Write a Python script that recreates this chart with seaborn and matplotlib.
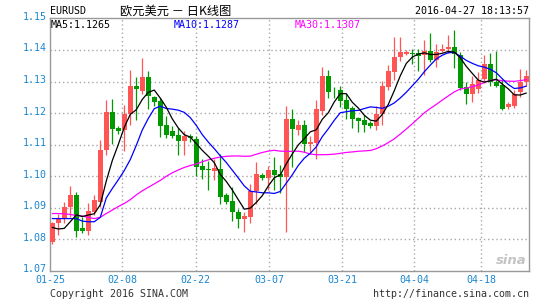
import numpy as np
import pandas as pd
import matplotlib
matplotlib.use("Agg")
import matplotlib.pyplot as plt
import matplotlib.transforms as mtransforms
import seaborn as sns

# ---------------- data ----------------
opens = [1.0793, 1.0851, 1.0866, 1.0903, 1.0940, 1.0835, 1.0827, 1.0888, 1.0919, 1.1082,
         1.1203, 1.1153, 1.1145, 1.1198, 1.1287, 1.1271, 1.1313, 1.1252, 1.1239, 1.1163,
         1.1142, 1.1132, 1.1111, 1.1128, 1.1119, 1.1032, 1.1022, 1.1016, 1.1024, 1.0942,
         1.0921, 1.0888, 1.0866, 1.0871, 1.0952, 1.1005, 1.0993, 1.1019, 1.1008, 1.0998,
         1.1182, 1.1145, 1.1163, 1.1103, 1.1105, 1.1208, 1.1316, 1.1277, 1.1274, 1.1240,
         1.1217, 1.1184, 1.1179, 1.1168, 1.1159, 1.1196, 1.1284, 1.1329, 1.1379, 1.1387,
         1.1392, 1.1389, 1.1384, 1.1396, 1.1369, 1.1398, 1.1403, 1.1411, 1.1385, 1.1284,
         1.1262, 1.1276, 1.1309, 1.1356, 1.1300, 1.1290, 1.1219, 1.1223, 1.1266, 1.1298]
highs = [1.0856, 1.0882, 1.0917, 1.0968, 1.0950, 1.0872, 1.0914, 1.0940, 1.1114, 1.1240,
         1.1245, 1.1160, 1.1227, 1.1337, 1.1313, 1.1376, 1.1334, 1.1255, 1.1247, 1.1192,
         1.1158, 1.1153, 1.1144, 1.1135, 1.1128, 1.1055, 1.1047, 1.1055, 1.1071, 1.0947,
         1.0965, 1.0895, 1.0886, 1.0977, 1.1046, 1.1011, 1.1034, 1.1061, 1.1036, 1.1221,
         1.1214, 1.1177, 1.1177, 1.1126, 1.1242, 1.1345, 1.1337, 1.1282, 1.1287, 1.1259,
         1.1224, 1.1189, 1.1193, 1.1175, 1.1221, 1.1301, 1.1351, 1.1440, 1.1440, 1.1400,
         1.1403, 1.1403, 1.1433, 1.1454, 1.1419, 1.1419, 1.1448, 1.1464, 1.1393, 1.1297,
         1.1318, 1.1331, 1.1385, 1.1391, 1.1396, 1.1308, 1.1234, 1.1272, 1.1340, 1.1335]
lows = [1.0787, 1.0815, 1.0853, 1.0872, 1.0808, 1.0819, 1.0814, 1.0877, 1.0903, 1.1066,
        1.1103, 1.1134, 1.1081, 1.1161, 1.1178, 1.1261, 1.1214, 1.1223, 1.1123, 1.1120,
        1.1121, 1.1068, 1.1066, 1.1107, 1.1002, 1.0992, 1.0956, 1.0987, 1.0911, 1.0911,
        1.0857, 1.0835, 1.0825, 1.0851, 1.0911, 1.0987, 1.0956, 1.0958, 1.0947, 1.0823,
        1.1030, 1.1130, 1.1077, 1.1072, 1.1056, 1.1193, 1.1248, 1.1248, 1.1219, 1.1182,
        1.1154, 1.1140, 1.1140, 1.1153, 1.1145, 1.1161, 1.1272, 1.1305, 1.1366, 1.1384,
        1.1356, 1.1333, 1.1321, 1.1361, 1.1345, 1.1393, 1.1389, 1.1342, 1.1272, 1.1229,
        1.1236, 1.1265, 1.1295, 1.1286, 1.1282, 1.1209, 1.1214, 1.1217, 1.1252, 1.1286]
closes = [1.0853, 1.0866, 1.0903, 1.0940, 1.0827, 1.0827, 1.0889, 1.0924, 1.1082, 1.1203,
          1.1150, 1.1143, 1.1198, 1.1287, 1.1276, 1.1313, 1.1255, 1.1234, 1.1160, 1.1131,
          1.1129, 1.1111, 1.1128, 1.1121, 1.1029, 1.1021, 1.1019, 1.1025, 1.0935, 1.0918,
          1.0886, 1.0866, 1.0874, 1.0952, 1.1008, 1.0993, 1.1019, 1.1005, 1.0998, 1.1182,
          1.1149, 1.1163, 1.1103, 1.1107, 1.1214, 1.1316, 1.1266, 1.1275, 1.1237, 1.1214,
          1.1180, 1.1175, 1.1161, 1.1159, 1.1198, 1.1287, 1.1333, 1.1379, 1.1395, 1.1393,
          1.1387, 1.1381, 1.1398, 1.1369, 1.1395, 1.1404, 1.1411, 1.1387, 1.1279, 1.1259,
          1.1293, 1.1304, 1.1356, 1.1300, 1.1285, 1.1214, 1.1229, 1.1261, 1.1298, 1.1316]

# moving-average values at the start of the window (they depend on earlier days)
ma5_head = [1.0838, 1.0833, 1.0835, 1.0856]
ma10_head = [1.0866, 1.0866, 1.0866, 1.0866, 1.0866, 1.0858, 1.0856, 1.0856, 1.0870]
ma30_head = [1.0882, 1.0882, 1.0881, 1.0879, 1.0876, 1.0874, 1.0870, 1.0866, 1.0870, 1.0882,
             1.0893, 1.0904, 1.0914, 1.0926, 1.0941, 1.0954, 1.0965, 1.0976, 1.0987, 1.1000,
             1.1011, 1.1020, 1.1028, 1.1034, 1.1039, 1.1046, 1.1052, 1.1057, 1.1061]

date_labels = ["01-25", "02-08", "02-22", "03-07", "03-21", "04-04", "04-18"]
y_labels = ["1.07", "1.08", "1.09", "1.10", "1.11", "1.12", "1.13", "1.14", "1.15"]
ma_texts = ["MA5:1.1265", "MA10:1.1287", "MA30:1.1307"]

# ---------------- drawing ----------------
sns.set_theme(style="white")
plt.rcParams['font.family'] = ['DejaVu Sans Mono', 'Noto Sans CJK SC']

RED = "#ff5555"
GREEN = "#009a00"
GRID = "#a8a8a8"
BLUE_TXT = "#1a86d0"

W, H = 545, 300
fig = plt.figure(figsize=(W / 100, H / 100), dpi=100)
fig.patch.set_facecolor("white")


def fx(px):
    return px / W


def fy(py):
    return 1 - py / H


ax_left, ax_right, ax_top, ax_bot = 50, 529.3, 18.4, 271
ax = fig.add_axes([fx(ax_left), fy(ax_bot), fx(ax_right - ax_left), (ax_bot - ax_top) / H])
ax.set_facecolor("white")

df = pd.DataFrame(dict(open=opens, high=highs, low=lows, close=closes))
df["x"] = np.arange(len(df))
up = df["close"] >= df["open"]
cols = np.where(up, RED, GREEN)

ma5 = df["close"].rolling(5).mean().to_numpy()
ma10 = df["close"].rolling(10).mean().to_numpy()
ma30 = df["close"].rolling(30).mean().to_numpy()
ma5[:len(ma5_head)] = ma5_head
ma10[:len(ma10_head)] = ma10_head
ma30[:len(ma30_head)] = ma30_head
df["ma5"], df["ma10"], df["ma30"] = ma5, ma10, ma30

# grid
xmin, xmax = -0.38, 79.5
tick_pos = [xmin, 11.68, 23.92, 36.1, 48.27, 60.27, 71.45]
for t in tick_pos[1:]:
    ax.axvline(t, color=GRID, lw=1, ls=(0, (1, 2)), zorder=0)
for yv in np.arange(1.08, 1.145, 0.01):
    ax.axhline(yv, color=GRID, lw=1, ls=(0, (1, 2)), zorder=0)

# candles
ax.vlines(df["x"], df["low"], df["high"], colors=cols, lw=0.9, zorder=2)
body_bottom = np.minimum(df["open"], df["close"])
body_h = np.maximum((df["close"] - df["open"]).abs(), 0.00012)
ax.bar(df["x"], body_h, bottom=body_bottom, width=0.8, color=cols, linewidth=0, zorder=3)

# moving averages
sns.lineplot(data=df, x="x", y="ma30", color="#ff00ff", lw=0.9, ax=ax, zorder=4)
sns.lineplot(data=df, x="x", y="ma10", color="#0000ff", lw=0.9, ax=ax, zorder=5)
sns.lineplot(data=df, x="x", y="ma5", color="black", lw=0.9, ax=ax, zorder=6)

ax.set_xlim(xmin, xmax)
ax.set_ylim(1.07, 1.15)
ax.set_xlabel("")
ax.set_ylabel("")
ax.set_xticks(tick_pos)
ax.set_xticklabels(date_labels)
ax.set_yticks([float(v) for v in y_labels])
ax.set_yticklabels(y_labels)
ax.tick_params(axis="both", length=0, labelsize=7.2, colors=BLUE_TXT)
ax.tick_params(axis="x", pad=3.2)
ax.tick_params(axis="y", pad=2.5)
up_shift = mtransforms.ScaledTranslation(0, 2.5 / 100, fig.dpi_scale_trans)
for lbl in ax.get_yticklabels():
    lbl.set_transform(lbl.get_transform() + up_shift)
for s in ax.spines.values():
    s.set_visible(True)
    s.set_color("#999999")
    s.set_linewidth(1)

# texts
fig.text(fx(50), fy(11.5), "EURUSD", fontsize=7.2, color="black", ha="left", va="center")
fig.text(fx(120), fy(11.5), "欧元美元 － 日K线图", fontsize=8.8, color="black", ha="left",
         va="center", family=["Noto Sans CJK SC", "DejaVu Sans"])
fig.text(fx(529.4), fy(11.5), "2016-04-27 18:13:57", fontsize=7.2, color="black",
         ha="right", va="center")
fig.text(fx(51), fy(25), ma_texts[0], fontsize=7.2, color="black", ha="left", va="center")
fig.text(fx(174), fy(25), ma_texts[1], fontsize=7.2, color="#0000ff", ha="left", va="center")
fig.text(fx(295), fy(25), ma_texts[2], fontsize=7.2, color="#ff00ff", ha="left", va="center")
fig.text(fx(50), fy(294), "Copyright 2016 SINA.COM", fontsize=7.2, color="#333333",
         ha="left", va="center")
fig.text(fx(529.4), fy(294), "http://finance.sina.com.cn", fontsize=7.2, color="#333333",
         ha="right", va="center")
fig.text(fx(527), fy(261), "sina", fontsize=9.5, color="#c4c4c4", ha="right", va="center",
         style="italic", weight="bold", family=["DejaVu Sans"])

fig.savefig("out.png", dpi=100, facecolor="white")
